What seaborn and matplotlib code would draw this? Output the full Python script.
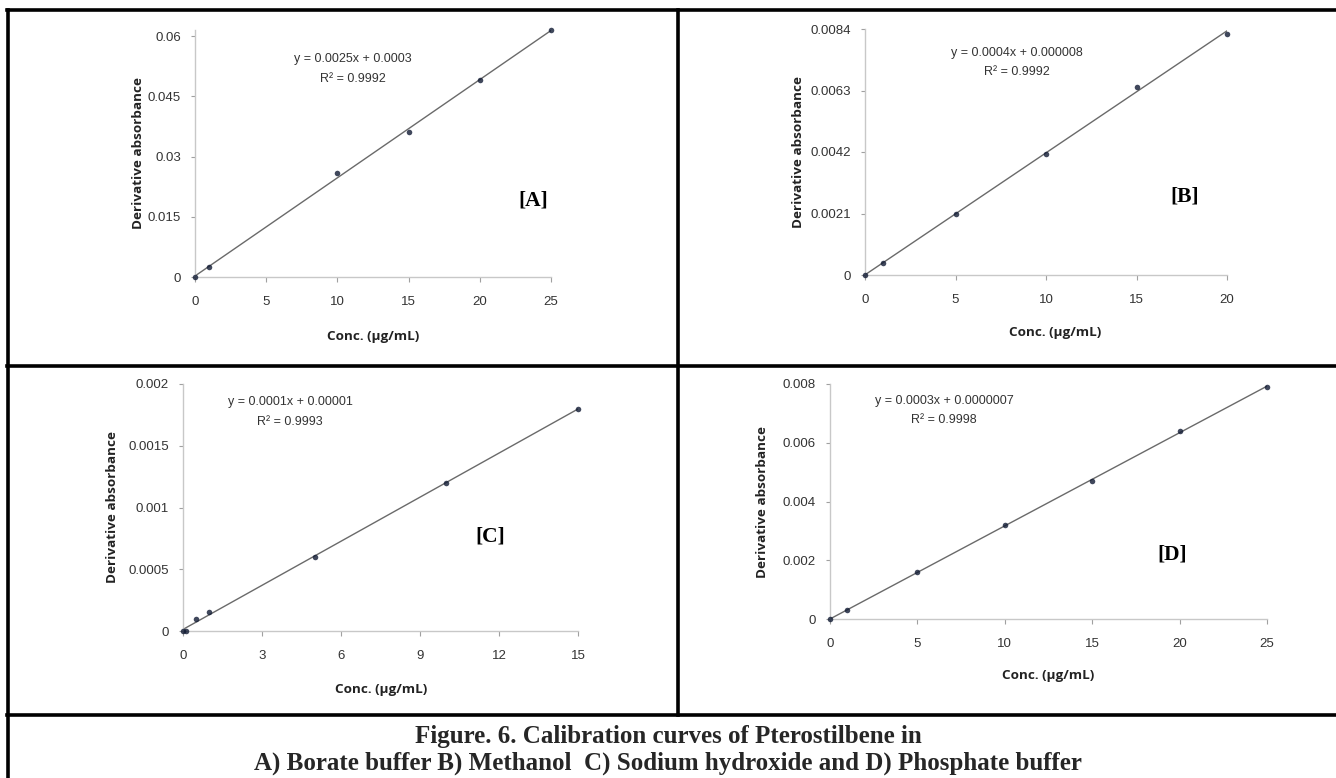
import matplotlib
matplotlib.use("Agg")
import matplotlib.pyplot as plt
import seaborn as sns
import numpy as np
import pandas as pd
from matplotlib.lines import Line2D

sns.set_theme(style="white")
plt.rcParams['font.family'] = ['Liberation Sans Narrow', 'Liberation Sans', 'DejaVu Sans']

# ---------------- data ----------------
conc_a = [0, 1, 10, 15, 20, 25]
abs_a = [0.0, 0.0026, 0.0259, 0.0360, 0.0491, 0.0615]
conc_b = [0, 1, 5, 10, 15, 20]
abs_b = [0.0, 0.0004, 0.0021, 0.00413, 0.00641, 0.00824]
conc_c = [0, 0.1, 0.5, 1, 5, 10, 15]
abs_c = [0.0, 0.0, 0.0001, 0.00015, 0.0006, 0.0012, 0.0018]
conc_d = [0, 1, 5, 10, 15, 20, 25]
abs_d = [0.0, 0.0003, 0.0016, 0.0032, 0.0047, 0.0064, 0.0079]

yticks_a = [0, 0.015, 0.03, 0.045, 0.06]
yticks_b = [0, 0.0021, 0.0042, 0.0063, 0.0084]
yticks_c = [0, 0.0005, 0.001, 0.0015, 0.002]
yticks_d = [0, 0.002, 0.004, 0.006, 0.008]
ylabels_a = ["0", "0.015", "0.03", "0.045", "0.06"]
ylabels_b = ["0", "0.0021", "0.0042", "0.0063", "0.0084"]
ylabels_c = ["0", "0.0005", "0.001", "0.0015", "0.002"]
ylabels_d = ["0", "0.002", "0.004", "0.006", "0.008"]
xticks_a = [0, 5, 10, 15, 20, 25]
xticks_b = [0, 5, 10, 15, 20]
xticks_c = [0, 3, 6, 9, 12, 15]
xticks_d = [0, 5, 10, 15, 20, 25]

eq_a = ["y = 0.0025x + 0.0003", "R\u00b2 = 0.9992"]
eq_b = ["y = 0.0004x + 0.000008", "R\u00b2 = 0.9992"]
eq_c = ["y = 0.0001x + 0.00001", "R\u00b2 = 0.9993"]
eq_d = ["y = 0.0003x + 0.0000007", "R\u00b2 = 0.9998"]
panel_labels = ["[A]", "[B]", "[C]", "[D]"]
xlabel = "Conc. (\u00b5g/mL)"
ylabel = "Derivative absorbance"
caption1 = "Figure. 6. Calibration curves of Pterostilbene in"
caption2 = "A) Borate buffer B) Methanol  C) Sodium hydroxide and D) Phosphate buffer"

W, H = 1336, 778
fig = plt.figure(figsize=(W / 100, H / 100), dpi=100)
fig.patch.set_facecolor("white")


def fx(px):
    return px / W


def fy(py):
    return 1 - py / H


# panel geometry (pixels): left, right, top, bottom
panels = [
    dict(x=conc_a, y=abs_a, yt=yticks_a, yl=ylabels_a, xt=xticks_a, ymax=0.0615,
         box=(195, 551, 30, 277), eq=eq_a, eqpos=(353, 59, 79), lab=panel_labels[0], labpos=(533, 201),
         xlpos=(373, 336), ylpos=(139, 153)),
    dict(x=conc_b, y=abs_b, yt=yticks_b, yl=ylabels_b, xt=xticks_b, ymax=0.0084,
         box=(865, 1227, 29, 275), eq=eq_b, eqpos=(1017, 53, 72), lab=panel_labels[1], labpos=(1185, 197),
         xlpos=(1055, 333), ylpos=(799, 152)),
    dict(x=conc_c, y=abs_c, yt=yticks_c, yl=ylabels_c, xt=xticks_c, ymax=0.002,
         box=(183, 578, 384, 631), eq=eq_c, eqpos=(290, 402, 422), lab=panel_labels[2], labpos=(490, 537),
         xlpos=(381, 690), ylpos=(112, 507)),
    dict(x=conc_d, y=abs_d, yt=yticks_d, yl=ylabels_d, xt=xticks_d, ymax=0.008,
         box=(830, 1267, 384, 619), eq=eq_d, eqpos=(944, 401, 420), lab=panel_labels[3], labpos=(1172, 555),
         xlpos=(1048, 675), ylpos=(762, 502)),
]

axis_gray = "#c8c8c8"
for p in panels:
    l, r, t, b = p["box"]
    ax = fig.add_axes([fx(l), fy(b), (r - l) / W, (b - t) / H])
    df = pd.DataFrame({"conc": p["x"], "abs": p["y"]})
    sns.regplot(data=df, x="conc", y="abs", ax=ax, ci=None, truncate=True,
                scatter_kws=dict(s=16, color="#101a33", zorder=3, clip_on=False, linewidths=0),
                line_kws=dict(color="#6a6a6a", lw=1.0, zorder=2))
    ax.set_xlim(0, max(p["xt"]))
    ax.set_ylim(0, p["ymax"])
    ax.set_xticks(p["xt"])
    ax.set_xticklabels([str(v) for v in p["xt"]])
    ax.set_yticks(p["yt"])
    ax.set_yticklabels(p["yl"])
    ax.set_xlabel("")
    ax.set_ylabel("")
    for s in ["top", "right"]:
        ax.spines[s].set_visible(False)
    for s in ["left", "bottom"]:
        ax.spines[s].set_color(axis_gray)
        ax.spines[s].set_linewidth(1.0)
    ax.tick_params(axis="x", direction="out", length=3.5, width=0.8, color="#a0a0a0",
                   pad=10, labelsize=9.5, labelcolor="#333333", bottom=True)
    ax.tick_params(axis="y", direction="out", length=3, width=0.8, color="#a0a0a0",
                   pad=7, labelsize=9.5, labelcolor="#333333", left=True)
    ax.set_facecolor("none")

    ex, ey1, ey2 = p["eqpos"]
    fig.text(fx(ex), fy(ey1), p["eq"][0], ha="center", va="center", fontsize=9, color="#333333")
    fig.text(fx(ex), fy(ey2), p["eq"][1], ha="center", va="center", fontsize=9, color="#333333")
    lx, ly = p["labpos"]
    fig.text(fx(lx), fy(ly), p["lab"], ha="center", va="center", fontsize=15.5, fontweight="bold",
             family=["Liberation Serif", "DejaVu Serif"], color="black")
    xx, xy = p["xlpos"]
    fig.text(fx(xx), fy(xy), xlabel, ha="center", va="center", fontsize=9.7, fontweight="bold",
             family=["Open Sans", "DejaVu Sans"], color="#222222")
    yx, yy = p["ylpos"]
    fig.text(fx(yx), fy(yy), ylabel, ha="center", va="center", fontsize=9.7, fontweight="bold",
             rotation=90, family=["Open Sans", "DejaVu Sans"], color="#222222")

# table borders
lw = 2.6
for (x0, y0, x1, y1) in [(7, 10, 1336, 10), (7, 366, 1336, 366), (7, 715, 1336, 715),
                         (8, 10, 8, 778), (678, 10, 678, 715)]:
    fig.add_artist(Line2D([fx(x0), fx(x1)], [fy(y0), fy(y1)], color="black", lw=lw,
                          transform=fig.transFigure, solid_capstyle="projecting"))

fig.text(0.5, fy(736), caption1, ha="center", va="center", fontsize=18, fontweight="bold",
         family=["Liberation Serif", "DejaVu Serif"])
fig.text(0.5, fy(763), caption2, ha="center", va="center", fontsize=18, fontweight="bold",
         family=["Liberation Serif", "DejaVu Serif"])

fig.savefig("out.png", dpi=100)
